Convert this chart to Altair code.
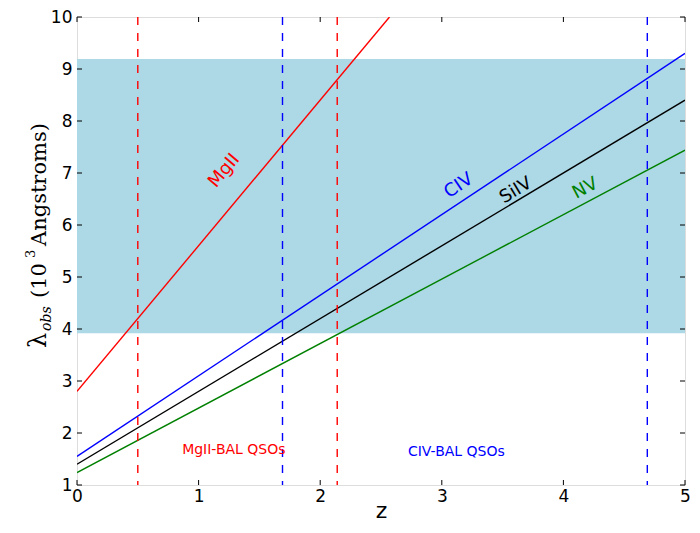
import altair as alt
import pandas as pd

# ---- data ----
line_names = ["MgII", "CIV", "SiIV", "NV"]
line_colors = ["#ff0000", "#0000ff", "#000000", "#008000"]
line_z = [[0.0, 2.57], [0.0, 5.0], [0.0, 5.0], [0.0, 5.0]]
line_lam = [[2.80, 10.0], [1.55, 9.30], [1.40, 8.40], [1.24, 7.44]]

band_lo = 3.92
band_hi = 9.19
band_z = [0.0, 5.0]

vline_z = [0.50, 2.14, 1.69, 4.69]
vline_colors = ["#ff0000", "#ff0000", "#0000ff", "#0000ff"]

lab_text = ["MgII", "CIV", "SiIV", "NV"]
lab_z = [1.21, 3.14, 3.61, 4.18]
lab_lam = [7.04, 6.75, 6.66, 6.70]
lab_angle = [310, 326, 329, 332]

reg_text = ["MgII-BAL QSOs", "CIV-BAL QSOs"]
reg_z = [1.29, 3.12]
reg_lam = [1.68, 1.64]
reg_colors = ["#ff0000", "#0000ff"]

xticks = [0, 1, 2, 3, 4, 5]
yticks = [1, 2, 3, 4, 5, 6, 7, 8, 9, 10]

W, H = 608, 468

xs = alt.Scale(domain=[0, 5], nice=False, zero=False)
ys = alt.Scale(domain=[1, 10], nice=False, zero=False)
xaxis = alt.Axis(values=xticks, title="z", grid=False, ticks=False, domain=False,
                 labelFontSize=17, labelColor="black", labelFont="DejaVu Sans",
                 labelPadding=3, titleFontSize=22, titleFont="DejaVu Sans",
                 titleFontWeight="normal", titleColor="black", titlePadding=-4,
                 labelFlush=False)
yaxis = alt.Axis(values=yticks, title=None, grid=False, ticks=False, domain=False,
                 labelFontSize=17, labelColor="black", labelFont="DejaVu Sans",
                 labelPadding=5, labelFlush=False)

X = lambda f: alt.X(f, type="quantitative", scale=xs, axis=xaxis)
Y = lambda f: alt.Y(f, type="quantitative", scale=ys, axis=yaxis)

band_df = pd.DataFrame({"x": [band_z[0]], "x2": [band_z[1]], "y": [band_lo], "y2": [band_hi]})
band = alt.Chart(band_df).mark_rect(color="#add8e6", opacity=1).encode(
    x=X("x"), x2="x2", y=Y("y"), y2="y2")

rows = []
for n, c, zz, ll in zip(line_names, line_colors, line_z, line_lam):
    for i, (a, b) in enumerate(zip(zz, ll)):
        rows.append({"name": n, "x": a, "y": b, "o": i})
lines_df = pd.DataFrame(rows)
lines = alt.Chart(lines_df).mark_line(strokeWidth=1.4, clip=True).encode(
    x=X("x"), y=Y("y"), detail="name:N", order="o:Q",
    color=alt.Color("name:N", scale=alt.Scale(domain=line_names, range=line_colors), legend=None))

vdf = pd.DataFrame({"x": vline_z, "c": vline_colors})
vlines = alt.Chart(vdf).mark_rule(strokeDash=[8, 8], strokeWidth=1.4).encode(
    x=X("x"), color=alt.Color("c:N", scale=None))

ldf = pd.DataFrame({"x": lab_z, "y": lab_lam, "t": lab_text, "a": lab_angle, "c": line_colors})
labels = alt.Chart(ldf).mark_text(fontSize=18, font="DejaVu Sans", align="center",
                                  baseline="middle").encode(
    x=X("x"), y=Y("y"), text="t:N", angle=alt.Angle("a:Q", scale=None),
    color=alt.Color("c:N", scale=None))

rdf = pd.DataFrame({"x": reg_z, "y": reg_lam, "t": reg_text, "c": reg_colors})
regions = alt.Chart(rdf).mark_text(fontSize=14, font="DejaVu Sans", align="center",
                                   baseline="middle").encode(
    x=X("x"), y=Y("y"), text="t:N", color=alt.Color("c:N", scale=None))

# inward ticks on all four sides
txdf = pd.DataFrame({"x": xticks})
tydf = pd.DataFrame({"y": yticks})
tb = alt.Chart(txdf).mark_rule(color="black", strokeWidth=1).encode(
    x=X("x"), y=alt.value(H), y2=alt.value(H - 5))
tt = alt.Chart(txdf).mark_rule(color="black", strokeWidth=1).encode(
    x=X("x"), y=alt.value(0), y2=alt.value(5))
tl = alt.Chart(tydf).mark_rule(color="black", strokeWidth=1).encode(
    y=Y("y"), x=alt.value(0), x2=alt.value(5))
tr = alt.Chart(tydf).mark_rule(color="black", strokeWidth=1).encode(
    y=Y("y"), x=alt.value(W), x2=alt.value(W - 5))

# y-axis title built from pieces (lambda_obs (10^3 Angstroms))
tparts = ["λ", "obs", "(10", "3", "Angstroms)"]
tx = [-31, -26, -31, -42, -31]
ty = [331, 314, 281, 241, 229]
tsize = [24, 14, 21, 13, 21]
tstyle = ["normal", "italic", "normal", "normal", "normal"]
ttl = []
for p, a, b, s, st in zip(tparts, tx, ty, tsize, tstyle):
    ttl.append(alt.Chart(pd.DataFrame({"t": [p]})).mark_text(
        angle=270, align="left", baseline="alphabetic", font="DejaVu Serif",
        fontSize=s, fontStyle=st, color="black").encode(
        text="t:N", x=alt.value(a), y=alt.value(b)))

chart = alt.layer(band, lines, vlines, labels, regions, tb, tt, tl, tr, *ttl).properties(
    width=W, height=H, autosize="none",
    padding={"left": 69, "top": 9, "right": 7, "bottom": 40}
).configure_view(stroke="black", strokeWidth=1.2).configure(background="white")

chart.save("out.html", embed_options={"renderer": "svg", "actions": False})
